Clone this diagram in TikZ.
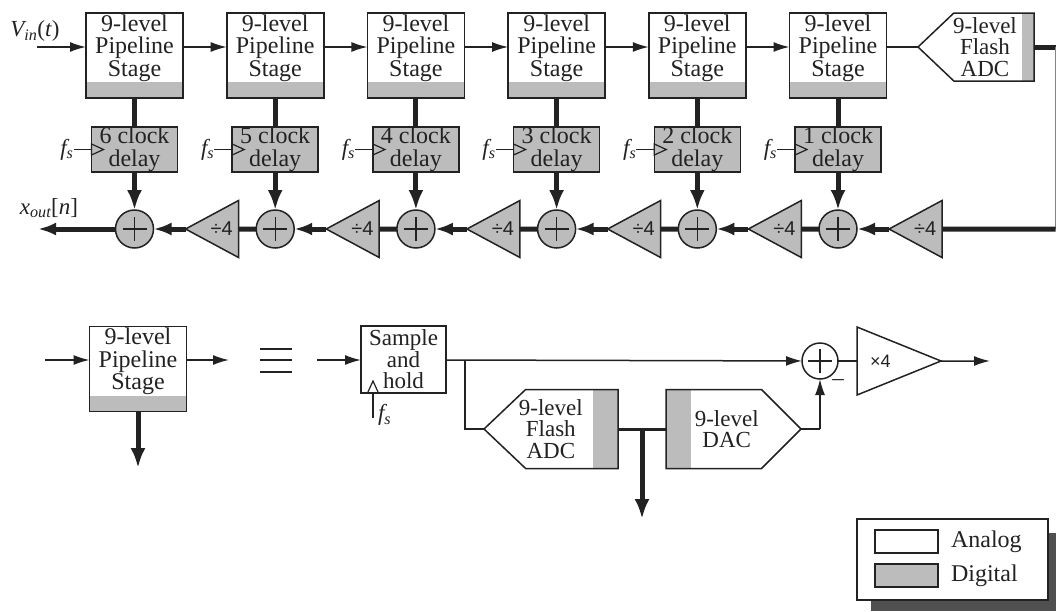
\documentclass[tikz,border=0pt]{standalone}
\usepackage{fontspec}
\setmainfont{Liberation Serif}
\setsansfont{Liberation Sans}
\usepackage{xcolor}
\usetikzlibrary{arrows.meta,positioning,shapes.geometric,shapes.symbols}
\definecolor{digital}{HTML}{BCBCBC}
\definecolor{ink}{HTML}{222222}
\definecolor{shade}{HTML}{505050}
\newcommand{\clockname}{\textit{f\textsubscript{s}}}
\tikzset{
  every node/.style={text=ink, outer sep=0pt, inner sep=0pt},
  stagebox/.style={draw=ink, line width=1.6pt, fill=white, align=center, minimum width=97pt, minimum height=85pt, text depth=20pt,
    font=\fontsize{24}{22.5}\selectfont,
    path picture={\fill[digital] ([yshift=16pt]path picture bounding box.south west) rectangle (path picture bounding box.south east);}},
  delaybox/.style={draw=ink, line width=1.6pt, fill=digital, align=center, minimum width=86pt, minimum height=45pt, font=\fontsize{24}{22.5}\selectfont},
  holdbox/.style={draw=ink, line width=1.5pt, fill=white, align=center, minimum width=85pt, minimum height=67pt, font=\fontsize{23}{21.6}\selectfont},
  sumcircle/.style={circle, draw=ink, line width=1.5pt, fill=digital, minimum size=38pt, path picture={\draw[ink, line width=1.3pt] (path picture bounding box.center) +(-12pt,0) -- +(12pt,0) +(0,-12pt) -- +(0,12pt);}},
  sumwhite/.style={sumcircle, fill=white},
  divtri/.style={isosceles triangle, isosceles triangle stretches, shape border rotate=180, draw=ink, line width=1.5pt, fill=digital, minimum width=57pt, minimum height=53pt, font=\sffamily\fontsize{20}{20}\selectfont},
  gaintri/.style={isosceles triangle, isosceles triangle stretches, draw=ink, line width=1.5pt, fill=white, minimum width=68pt, minimum height=84pt, font=\sffamily\fontsize{18}{18}\selectfont},
  clockmark/.style={isosceles triangle, isosceles triangle stretches, draw=ink, line width=1.2pt, minimum width=11pt, minimum height=12pt},
  adctext/.style={align=center, font=\fontsize{23}{21.6}\selectfont},
  adcleft/.style={signal, signal to=west, signal pointer angle=87, draw=ink, line width=1.5pt, fill=white,
    path picture={\fill[digital] ([xshift=-12pt]path picture bounding box.south east) rectangle (path picture bounding box.north east);}},
  dacright/.style={signal, signal to=east, signal pointer angle=90, draw=ink, line width=1.5pt, fill=white,
    path picture={\fill[digital] ([xshift=25pt]path picture bounding box.south west) rectangle (path picture bounding box.north west);}},
  swatch/.style={draw=ink, line width=1.4pt, minimum width=63pt, minimum height=23pt},
  legendbox/.style={draw=ink, line width=1.5pt, fill=white, minimum width=191pt, minimum height=81pt},
  legendshade/.style={fill=shade, minimum width=185pt, minimum height=78pt},
  legendtext/.style={font=\fontsize{24}{24}\selectfont},
  signallabel/.style={font=\fontsize{23}{23}\selectfont},
  thinline/.style={draw=ink, line width=1.5pt},
  thickline/.style={draw=ink, line width=5pt},
  thinarrow/.style={draw=ink, line width=1.5pt, -{Latex[length=16pt,width=10pt]}},
  thickarrow/.style={draw=ink, line width=5pt, -{Latex[length=20pt,width=15pt]}},
  busarrow/.style={draw=ink, line width=5pt, -{Latex[length=18pt,width=13pt]}}
}
\begin{document}
\begin{tikzpicture}[x=1pt, y=-1pt, node distance=43.7pt]
\useasboundingbox (0,0) rectangle (1056,611);
% upper chain
\node[stagebox] (stage1) at (134.5,55.5) {9-level\\Pipeline\\Stage};
\node[stagebox, right=of stage1] (stage2) {9-level\\Pipeline\\Stage};
\node[stagebox, right=of stage2] (stage3) {9-level\\Pipeline\\Stage};
\node[stagebox, right=of stage3] (stage4) {9-level\\Pipeline\\Stage};
\node[stagebox, right=of stage4] (stage5) {9-level\\Pipeline\\Stage};
\node[stagebox, right=of stage5] (stage6) {9-level\\Pipeline\\Stage};
\node[adcleft, minimum width=116pt, minimum height=68pt, anchor=east, label={[adctext, xshift=-9pt]center:9-level\\Flash\\ADC}] (flash) at (1034,47) {};
\node[delaybox, below=29pt of stage1] (delay1) {6 clock\\delay};
\node[delaybox, below=29pt of stage2] (delay2) {5 clock\\delay};
\node[delaybox, below=29pt of stage3] (delay3) {4 clock\\delay};
\node[delaybox, below=29pt of stage4] (delay4) {3 clock\\delay};
\node[delaybox, below=29pt of stage5] (delay5) {2 clock\\delay};
\node[delaybox, below=29pt of stage6] (delay6) {1 clock\\delay};
\node[sumcircle, below=38pt of delay1] (sum1) {};
\node[sumcircle, below=38pt of delay2] (sum2) {};
\node[sumcircle, below=38pt of delay3] (sum3) {};
\node[sumcircle, below=38pt of delay4] (sum4) {};
\node[sumcircle, below=38pt of delay5] (sum5) {};
\node[sumcircle, below=38pt of delay6] (sum6) {};
\node[divtri, right=32pt of sum1] (div1) {÷4};
\node[divtri, right=32pt of sum2] (div2) {÷4};
\node[divtri, right=32pt of sum3] (div3) {÷4};
\node[divtri, right=32pt of sum4] (div4) {÷4};
\node[divtri, right=32pt of sum5] (div5) {÷4};
\node[divtri, right=32pt of sum6] (div6) {÷4};
\node[clockmark, anchor=west] (clk1) at (delay1.west) {};
\node[clockmark, anchor=west] (clk2) at (delay2.west) {};
\node[clockmark, anchor=west] (clk3) at (delay3.west) {};
\node[clockmark, anchor=west] (clk4) at (delay4.west) {};
\node[clockmark, anchor=west] (clk5) at (delay5.west) {};
\node[clockmark, anchor=west] (clk6) at (delay6.west) {};
\node[signallabel, left=18pt of delay1] (fs1) {\clockname};
\node[signallabel, left=18pt of delay2] (fs2) {\clockname};
\node[signallabel, left=18pt of delay3] (fs3) {\clockname};
\node[signallabel, left=18pt of delay4] (fs4) {\clockname};
\node[signallabel, left=18pt of delay5] (fs5) {\clockname};
\node[signallabel, left=18pt of delay6] (fs6) {\clockname};
\node[signallabel] (vin) at (35,31) {\textit{V\textsubscript{in}}(\textit{t})};
\coordinate (start) at (37,47);
\node[signallabel] (xout) at (49,208) {\textit{x\textsubscript{out}}[\textit{n}]};
\coordinate (outend) at (38,229);
\coordinate (adcout) at (1055.5,47);
\coordinate (busin) at (1055.5,229);
\draw[thinarrow] (start) -- (stage1.west |- start);
\draw[thinarrow] (stage1.east |- start) -- (stage2.west |- start);
\draw[thinarrow] (stage2.east |- start) -- (stage3.west |- start);
\draw[thinarrow] (stage3.east |- start) -- (stage4.west |- start);
\draw[thinarrow] (stage4.east |- start) -- (stage5.west |- start);
\draw[thinarrow] (stage5.east |- start) -- (stage6.west |- start);
\draw[thinline] (stage6.east |- start) -- (flash.west);
\draw[thickline] (flash.east) -- (adcout);
\draw[thinline, draw=digital!70!black] (adcout) -- (busin);
\draw[thickline] (busin) -- (div6.east);
\draw[thickline] (stage1) -- (delay1);
\draw[thickline] (stage2) -- (delay2);
\draw[thickline] (stage3) -- (delay3);
\draw[thickline] (stage4) -- (delay4);
\draw[thickline] (stage5) -- (delay5);
\draw[thickline] (stage6) -- (delay6);
\draw[thickarrow] (delay1) -- (sum1);
\draw[thickarrow] (delay2) -- (sum2);
\draw[thickarrow] (delay3) -- (sum3);
\draw[thickarrow] (delay4) -- (sum4);
\draw[thickarrow] (delay5) -- (sum5);
\draw[thickarrow] (delay6) -- (sum6);
\draw[thinline] (fs1) -- (clk1);
\draw[thinline] (fs2) -- (clk2);
\draw[thinline] (fs3) -- (clk3);
\draw[thinline] (fs4) -- (clk4);
\draw[thinline] (fs5) -- (clk5);
\draw[thinline] (fs6) -- (clk6);
\draw[busarrow] (sum1) -- (outend);
\draw[busarrow] (div1.west) -- (sum1);
\draw[thickline] (sum2) -- (div1.east);
\draw[busarrow] (div2.west) -- (sum2);
\draw[thickline] (sum3) -- (div2.east);
\draw[busarrow] (div3.west) -- (sum3);
\draw[thickline] (sum4) -- (div3.east);
\draw[busarrow] (div4.west) -- (sum4);
\draw[thickline] (sum5) -- (div4.east);
\draw[busarrow] (div5.west) -- (sum5);
\draw[thickline] (sum6) -- (div5.east);
\draw[busarrow] (div6.west) -- (sum6);
% stage detail
\node[stagebox] (stage) at (138,369) {9-level\\Pipeline\\Stage};
\coordinate (stagein) at (45,360);
\coordinate (stageout) at (229,360);
\coordinate (stagedown) at (138,468);
\draw[thinarrow] (stagein) -- (stage.west |- stagein);
\draw[thinarrow] (stage.east |- stageout) -- (stageout);
\draw[thickarrow] (stage) -- (stagedown);
\coordinate (eqa) at (260,349);
\coordinate (eqb) at (292,349);
\coordinate (eqc) at (260,360);
\coordinate (eqd) at (292,360);
\coordinate (eqe) at (260,372);
\coordinate (eqf) at (292,372);
\draw[thinline] (eqa) -- (eqb);
\draw[thinline] (eqc) -- (eqd);
\draw[thinline] (eqe) -- (eqf);
\node[holdbox] (hold) at (403.5,359.5) {Sample\\and\\hold};
\node[clockmark, shape border rotate=90, anchor=south] (clkh) at (373,393) {};
\node[signallabel, anchor=west] (fsh) at (378,415) {\clockname};
\coordinate (fshend) at (373,418);
\coordinate (holdin) at (317,360);
\node[adcleft, minimum width=134pt, minimum height=79pt, anchor=west, path picture={\fill[digital] ([xshift=-25pt]path picture bounding box.south east) rectangle (path picture bounding box.north east);}, label={[adctext, xshift=-21pt]center:9-level\\Flash\\ADC}] (flashb) at (484,429) {};
\node[dacright, minimum width=135pt, minimum height=79pt, anchor=east, label={[adctext, xshift=13pt]center:9-level\\DAC}] (dac) at (801,429) {};
\node[sumwhite, minimum size=36pt] (sumb) at (820,361) {};
\node[gaintri, anchor=west] (gain) at (857,361) {×4};
\node[signallabel] (minus) at (838,383) {--};
\coordinate (gainout) at (990,361);
\coordinate (branch) at (465,360);
\coordinate (digout) at (642,429);
\coordinate (digdown) at (642,519);
\coordinate (dacup) at (820,429);
\draw[thinarrow] (holdin) -- (hold.west |- holdin);
\draw[thinline] (fshend) -- (clkh);
\draw[thinarrow] (hold.east |- branch) -- (sumb);
\draw[thinline] (branch) |- (flashb.west);
\draw[thickline, line width=3pt] (flashb.east) -- (dac.west);
\draw[thickarrow] (digout) -- (digdown);
\draw[thinline] (dac.east) -- (dacup);
\draw[thinarrow] (dacup) -- (sumb);
\draw[thinline] (sumb) -- (gain.west);
\draw[thinarrow] (gain.east) -- (gainout);
% legend
\node[legendshade, anchor=north west] (shadow) at (871,533) {};
\node[legendbox, anchor=north west] (legend) at (857,519) {};
\node[swatch, fill=white, anchor=north west] (analogkey) at (875,530) {};
\node[swatch, fill=digital, anchor=north west] (digitalkey) at (875,564) {};
\node[legendtext, right=13pt of analogkey] (analogtext) {Analog};
\node[legendtext, right=13pt of digitalkey] (digitaltext) {Digital};
\end{tikzpicture}
\end{document}
